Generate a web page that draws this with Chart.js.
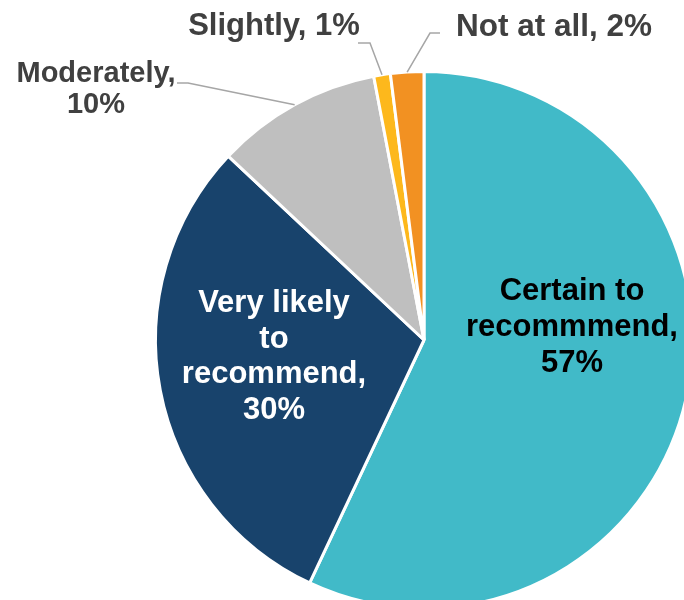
<!DOCTYPE html>
<html>
<head>
  <meta http-equiv="Content-Type" content="text/html; charset=utf-8">
  <title>Recommendation</title>
  <style>
    html, body { margin: 0; padding: 0; background: #fff; overflow: hidden; }
    .chart-box { position: absolute; left: 0; top: 0; width: 700px; height: 620px; }
  </style>
</head>
<body>
  <div class="chart-box">
    <canvas id="pieChart" width="700" height="620"></canvas>
  </div>
<script src="https://cdn.jsdelivr.net/npm/chart.js@4/dist/chart.umd.min.js"></script>
<script>
    // slices, clockwise from 12 o'clock
    var categories = ['Certain to\nrecommmend', 'Very likely\nto\nrecommend', 'Moderately', 'Slightly', 'Not at all'];
    var values = [57, 30, 10, 1, 2];
    var colors = ['#41BAC8', '#18436C', '#BFBFBF', '#FDB81C', '#F29122'];

    // label placement, offsets from the pie centre (px)
    // inline: percentage on the same line as the name
    var labelLayout = [
        { dx: 148, dy: -40, lh: 36, size: 31, color: '#000000', inline: false },
        { dx: -150, dy: -28, lh: 35.5, size: 31, color: '#ffffff', inline: false },
        { dx: -328, dy: -258, lh: 31, size: 29, color: '#404040', inline: false, leader: [[-247, -257], [-236, -257]] },
        { dx: -150, dy: -305, lh: 31, size: 31, color: '#404040', inline: true, leader: [[-66, -297], [-54, -297]] },
        { dx: 130, dy: -304, lh: 31, size: 31.5, color: '#404040', inline: true, leader: [[16, -307], [6, -307]] }
    ];

    function labelLines(i) {
        var lines = categories[i].split('\n');
        var pct = values[i] + '%';
        if (labelLayout[i].inline) {
            lines[lines.length - 1] += ', ' + pct;
        } else {
            lines[lines.length - 1] += ',';
            lines.push(pct);
        }
        return lines;
    }

    var sliceLabels = {
        id: 'sliceLabels',
        afterDatasetsDraw: function (chart) {
            var ctx = chart.ctx;
            var arcs = chart.getDatasetMeta(0).data;
            ctx.save();
            arcs.forEach(function (arc, i) {
                var lay = labelLayout[i];
                var cx = arc.x, cy = arc.y;

                // leader line: label -> elbow -> slice edge
                if (lay.leader) {
                    var mid = (arc.startAngle + arc.endAngle) / 2;
                    var r = arc.outerRadius;
                    ctx.beginPath();
                    ctx.strokeStyle = '#A6A6A6';
                    ctx.lineWidth = 1.5;
                    ctx.moveTo(cx + lay.leader[0][0], cy + lay.leader[0][1]);
                    ctx.lineTo(cx + lay.leader[1][0], cy + lay.leader[1][1]);
                    ctx.lineTo(cx + Math.cos(mid) * r, cy + Math.sin(mid) * r);
                    ctx.stroke();
                }

                ctx.font = 'bold ' + lay.size + 'px "Liberation Sans", Arial, sans-serif';
                ctx.fillStyle = lay.color;
                ctx.textAlign = 'center';
                ctx.textBaseline = 'alphabetic';
                labelLines(i).forEach(function (line, k) {
                    ctx.fillText(line, cx + lay.dx, cy + lay.dy + k * lay.lh);
                });
            });
            ctx.restore();
        }
    };

    var pieItem = document.getElementById('pieChart').getContext('2d');
    var pieChart = new Chart(pieItem, {
        type: 'pie',
        data: {
            labels: categories,
            datasets: [{
                data: values,
                backgroundColor: colors,
                borderColor: '#ffffff',
                borderWidth: 3
            }]
        },
        options: {
            responsive: false,
            animation: false,
            layout: { padding: { left: 154, top: 70, right: 6, bottom: 10 } },
            plugins: {
                legend: { display: false },
                tooltip: { enabled: false }
            }
        },
        plugins: [sliceLabels]
    });
</script>
</body>
</html>
